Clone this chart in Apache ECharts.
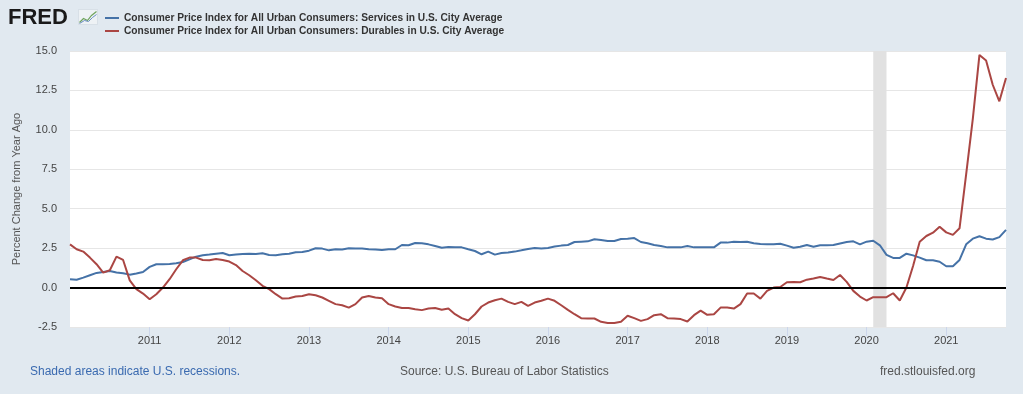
<!DOCTYPE html>
<html>
<head>
<meta charset="utf-8">
<script src="https://cdn.jsdelivr.net/npm/echarts@6/dist/echarts.min.js"></script>
<style>
html,body{margin:0;padding:0;background:#e1e9f0;}
#chart{width:1023px;height:394px;}
</style>
</head>
<body>
<div id="chart"></div>
<script>
const startYear = 2010;
const monthCount = 142;
const months = [];
for (let i = 0; i < monthCount; i++) {
  const y = startYear + Math.floor(i / 12);
  const m = (i % 12) + 1;
  months.push(y + '-' + (m < 10 ? '0' + m : m));
}

const servicesName = 'Consumer Price Index for All Urban Consumers: Services in U.S. City Average';
const durablesName = 'Consumer Price Index for All Urban Consumers: Durables in U.S. City Average';

const services = [
  0.53,0.50,0.63,0.78,0.93,0.99,1.05,0.95,0.91,0.82,0.89,0.99,
  1.31,1.48,1.48,1.50,1.54,1.62,1.79,1.96,2.05,2.09,2.15,2.19,
  2.05,2.09,2.13,2.15,2.13,2.17,2.07,2.05,2.11,2.15,2.24,2.26,
  2.34,2.49,2.47,2.36,2.43,2.41,2.49,2.47,2.47,2.43,2.41,2.38,
  2.43,2.43,2.70,2.68,2.83,2.81,2.74,2.64,2.53,2.57,2.55,2.55,
  2.43,2.32,2.11,2.28,2.09,2.19,2.22,2.28,2.36,2.45,2.51,2.47,
  2.51,2.60,2.66,2.70,2.89,2.91,2.93,3.06,3.02,2.95,2.95,3.08,
  3.10,3.14,2.89,2.81,2.70,2.64,2.55,2.55,2.55,2.64,2.55,2.55,
  2.55,2.55,2.85,2.85,2.91,2.89,2.91,2.81,2.76,2.74,2.74,2.78,
  2.66,2.53,2.59,2.70,2.59,2.68,2.68,2.70,2.80,2.89,2.93,2.74,
  2.91,2.97,2.68,2.07,1.88,1.88,2.15,2.04,1.90,1.73,1.73,1.64,
  1.35,1.35,1.75,2.74,3.10,3.25,3.10,3.05,3.20,3.66
];

const durables = [
  2.74,2.43,2.28,1.90,1.48,0.95,1.10,1.96,1.75,0.46,-0.10,-0.38,
  -0.74,-0.42,0.00,0.53,1.16,1.73,1.90,1.90,1.75,1.73,1.81,1.75,
  1.65,1.43,1.05,0.78,0.46,0.11,-0.10,-0.42,-0.70,-0.68,-0.57,-0.53,
  -0.42,-0.49,-0.63,-0.84,-1.05,-1.12,-1.27,-1.05,-0.63,-0.53,-0.63,-0.68,
  -1.05,-1.20,-1.29,-1.29,-1.37,-1.43,-1.33,-1.29,-1.41,-1.33,-1.69,-1.94,
  -2.09,-1.69,-1.20,-0.95,-0.80,-0.70,-0.91,-1.05,-0.91,-1.16,-0.95,-0.84,
  -0.70,-0.84,-1.12,-1.41,-1.69,-1.94,-1.96,-1.96,-2.17,-2.24,-2.24,-2.17,
  -1.79,-1.94,-2.11,-2.00,-1.75,-1.69,-1.94,-1.96,-2.00,-2.15,-1.75,-1.46,
  -1.73,-1.69,-1.27,-1.27,-1.33,-1.05,-0.38,-0.38,-0.70,-0.21,0.00,0.04,
  0.34,0.36,0.34,0.50,0.57,0.67,0.57,0.48,0.80,0.36,-0.21,-0.57,
  -0.82,-0.61,-0.61,-0.61,-0.36,-0.82,0.00,1.37,2.91,3.27,3.48,3.86,
  3.50,3.34,3.76,7.20,10.70,14.75,14.40,12.86,11.81,13.29
];

const yTicks = { min: -2.5, max: 15, interval: 2.5 };
const recession = ['2020-02', '2020-04'];

const isYearStart = function (idx, val) {
  return val.slice(5) === '01' && val.slice(0, 4) !== String(startYear);
};

const chart = echarts.init(document.getElementById('chart'), null, { renderer: 'canvas' });
const fontFamily = '"Liberation Sans", Arial, sans-serif';

chart.setOption({
  backgroundColor: '#e1e9f0',
  animation: false,
  textStyle: { fontFamily: fontFamily },
  grid: {
    left: 70, right: 17, top: 51, bottom: 67,
    show: true, backgroundColor: '#ffffff', borderWidth: 0
  },
  legend: {
    orient: 'vertical',
    left: 100, top: 8,
    itemWidth: 14, itemHeight: 2, itemGap: 3,
    icon: 'rect',
    textStyle: { fontSize: 10.2, fontWeight: 'bold', color: '#333333', fontFamily: fontFamily },
    data: [servicesName, durablesName]
  },
  xAxis: {
    type: 'category',
    data: months,
    boundaryGap: false,
    axisLine: { show: false, onZero: false },
    axisTick: { show: true, interval: isYearStart, length: 9, lineStyle: { color: '#ccd6eb' } },
    axisLabel: {
      interval: isYearStart,
      formatter: function (v) { return v.slice(0, 4); },
      color: '#444444', fontSize: 11, margin: 8
    },
    splitLine: { show: false }
  },
  yAxis: {
    type: 'value',
    min: yTicks.min, max: yTicks.max, interval: yTicks.interval,
    name: 'Percent Change from Year Ago',
    nameLocation: 'middle', nameGap: 48, nameRotate: 90,
    nameTextStyle: { color: '#555555', fontSize: 11 },
    axisLine: { show: false },
    axisTick: { show: false },
    axisLabel: {
      color: '#444444', fontSize: 11, margin: 13,
      formatter: function (v) { return v.toFixed(1); }
    },
    splitLine: { show: true, lineStyle: { color: '#e6e6e6', width: 1 } }
  },
  series: [
    {
      name: servicesName,
      type: 'line',
      data: services,
      showSymbol: false,
      symbol: 'none',
      lineStyle: { color: '#4572a7', width: 2 },
      itemStyle: { color: '#4572a7' },
      z: 3,
      markArea: {
        silent: true,
        itemStyle: { color: '#e1e1e1' },
        data: [[{ xAxis: recession[0] }, { xAxis: recession[1] }]]
      }
    },
    {
      name: durablesName,
      type: 'line',
      data: durables,
      showSymbol: false,
      symbol: 'none',
      lineStyle: { color: '#aa4643', width: 2 },
      itemStyle: { color: '#aa4643' },
      z: 3,
      markLine: {
        silent: true,
        symbol: 'none',
        label: { show: false },
        lineStyle: { color: '#000000', width: 2, type: 'solid' },
        data: [{ yAxis: 0 }]
      }
    }
  ],
  graphic: [
    {
      type: 'text', left: 8, top: 7,
      style: { text: 'FRED', font: '900 22px "Liberation Sans", Arial, sans-serif', fill: '#1a1a1a' }
    },
    {
      type: 'group', left: 77, top: 9,
      children: [
        { type: 'rect', shape: { x: 0, y: 0, width: 19, height: 15 }, style: { fill: '#eef2f5', stroke: '#c9d3dc', lineWidth: 0.5 } },
        { type: 'polyline', shape: { points: [[1,13],[5,9],[9,11],[13,6],[18,2]] }, style: { stroke: '#6fa35d', lineWidth: 1.2, fill: null } },
        { type: 'polyline', shape: { points: [[1,14],[6,11],[10,12],[14,8],[18,5]] }, style: { stroke: '#6b8fc4', lineWidth: 1, fill: null } }
      ]
    },
    {
      type: 'text', left: 30, top: 366,
      style: { text: 'Shaded areas indicate U.S. recessions.', font: '12px "Liberation Sans", Arial, sans-serif', fill: '#3a6ab0' }
    },
    {
      type: 'text', left: 400, top: 366,
      style: { text: 'Source: U.S. Bureau of Labor Statistics', font: '12px "Liberation Sans", Arial, sans-serif', fill: '#555555' }
    },
    {
      type: 'text', left: 880, top: 366,
      style: { text: 'fred.stlouisfed.org', font: '12px "Liberation Sans", Arial, sans-serif', fill: '#555555' }
    }
  ]
});
</script>
</body>
</html>
